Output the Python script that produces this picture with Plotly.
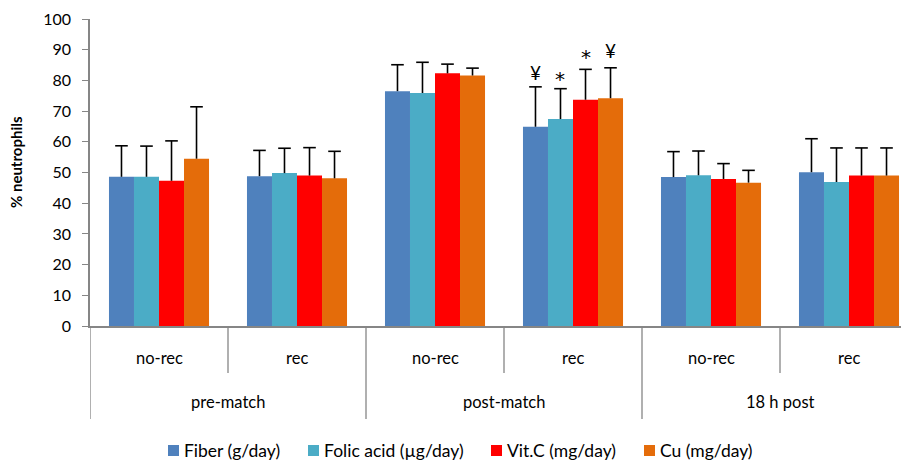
import plotly.graph_objects as go

# ---------------- data ----------------
periods = ["pre-match", "post-match", "18 h post"]
subgroups = ["no-rec", "rec"]
series_names = ["Fiber (g/day)", "Folic acid (µg/day)", "Vit.C (mg/day)", "Cu (mg/day)"]
series_colors = ["#4F81BD", "#4BACC6", "#FF0000", "#E46C0A"]

fiber = [48.6, 48.8, 76.5, 64.9, 48.5, 50.1]
folic = [48.6, 49.8, 75.9, 67.4, 49.1, 46.9]
vitc = [47.3, 49.0, 82.3, 73.7, 47.9, 49.0]
cu = [54.5, 48.1, 81.6, 74.2, 46.7, 49.0]

fiber_sd = [10.1, 8.4, 8.6, 13.0, 8.3, 10.9]
folic_sd = [10.0, 8.1, 10.0, 9.9, 7.9, 11.1]
vitc_sd = [13.0, 9.1, 3.0, 9.9, 5.0, 9.0]
cu_sd = [16.9, 8.8, 2.4, 9.9, 4.0, 9.0]

# significance marks (post-match, rec) and their heights
sig_marks = ["¥", "*", "*", "¥"]
sig_heights = [82.5, 80.6, 87.6, 89.6]
sig_group = 3

values = [fiber, folic, vitc, cu]
sds = [fiber_sd, folic_sd, vitc_sd, cu_sd]

y_ticks = list(range(0, 101, 10))

# ---------------- layout helpers ----------------
FONT = "Lato, 'Open Sans', sans-serif"
AXIS_GRAY = "#868686"
W, H = 909, 463
ML, MT, MR = 82, 11, 0
PLOT_H = 307
MB = H - MT - PLOT_H
PLOT_W = W - ML - MR
OFF = 8  # page offset of the figure
PX_PER_CAT = 138.0


def px_x(px):  # page pixel -> paper x
    return (px - OFF - ML) / PLOT_W


def px_y(py):  # page pixel -> paper y
    return (OFF + MT + PLOT_H - py) / PLOT_H


n_groups = len(periods) * len(subgroups)
xpos = [i + 0.5 for i in range(n_groups)]
bargap = 0.275
bar_w = (1 - bargap) / len(series_names)

fig = go.Figure()
for name, col, v, sd in zip(series_names, series_colors, values, sds):
    fig.add_trace(go.Bar(
        x=xpos, y=v, name=name, showlegend=False,
        marker=dict(color=col, line=dict(width=0)),
        error_y=dict(type="data", array=sd, arrayminus=[0] * len(sd), symmetric=False,
                     color="black", thickness=1.6, width=0),
    ))

# top caps of the one-sided error bars
for i, (v, sd) in enumerate(zip(values, sds)):
    fig.add_trace(go.Scatter(
        x=[x + (i - 1.5) * bar_w for x in xpos],
        y=[a + b for a, b in zip(v, sd)],
        mode="markers", showlegend=False, hoverinfo="skip",
        marker=dict(symbol="line-ew", size=9, color="black",
                    line=dict(color="black", width=1.6)),
    ))

annotations = []
for i, (m, h) in enumerate(zip(sig_marks, sig_heights)):
    annotations.append(dict(
        x=xpos[sig_group] + (i - 1.5) * bar_w, y=h, xref="x", yref="y",
        text=m, showarrow=False,
        font=dict(size=19 if m == "¥" else 20, color="black",
                  family=FONT if m == "¥" else "'DejaVu Sans', sans-serif"),
        xanchor="center", yanchor="middle"))

for i in range(n_groups):
    annotations.append(dict(
        x=xpos[i], y=px_y(358), xref="x", yref="paper", text=subgroups[i % 2],
        showarrow=False, font=dict(size=16.5, color="black", family=FONT),
        xanchor="center", yanchor="middle"))
for j, p in enumerate(periods):
    annotations.append(dict(
        x=2 * j + 1, y=px_y(402), xref="x", yref="paper", text=p,
        showarrow=False, font=dict(size=16.5, color="black", family=FONT),
        xanchor="center", yanchor="middle"))
annotations.append(dict(
    x=px_x(16), y=px_y(162), xref="paper", yref="paper", text="<b>% neutrophils</b>",
    textangle=-90, showarrow=False, font=dict(size=15, color="black", family=FONT),
    xanchor="center", yanchor="middle"))

shapes = []
for b in range(n_groups):
    bottom = px_y(419) if b % 2 == 0 else px_y(373)
    shapes.append(dict(type="line", xref="x", yref="paper", x0=b, x1=b, y0=0, y1=bottom,
                       line=dict(color=AXIS_GRAY, width=1.3)))

# manual legend (square + label)
legend_left = [168, 308, 491, 644]
legend_cy = 450.5
sq = 11
for name, col, lx in zip(series_names, series_colors, legend_left):
    shapes.append(dict(type="rect", xref="paper", yref="paper",
                       x0=px_x(lx), x1=px_x(lx + sq),
                       y0=px_y(legend_cy + sq / 2), y1=px_y(legend_cy - sq / 2),
                       fillcolor=col, line=dict(width=0)))
    annotations.append(dict(
        x=px_x(lx + sq + 3), y=px_y(legend_cy), xref="paper", yref="paper", text=name,
        showarrow=False, font=dict(size=17.5, color="black", family=FONT),
        xanchor="left", yanchor="middle"))

fig.update_layout(
    width=W, height=H,
    margin=dict(l=ML, r=MR, t=MT, b=MB),
    paper_bgcolor="white", plot_bgcolor="white",
    barmode="group", bargap=bargap, bargroupgap=0,
    font=dict(family=FONT, size=15, color="black"),
    showlegend=False,
    xaxis=dict(range=[0, PLOT_W / PX_PER_CAT], showticklabels=False, showgrid=False,
               zeroline=False, showline=True, linecolor=AXIS_GRAY, linewidth=1.5, ticks=""),
    yaxis=dict(range=[0, 100], tickvals=y_ticks, showgrid=False, zeroline=False,
               showline=True, linecolor=AXIS_GRAY, linewidth=1.5, ticks="outside",
               ticklen=6, tickcolor=AXIS_GRAY, tickwidth=1.3, ticklabelstandoff=8,
               tickfont=dict(size=16, color="black", family=FONT)),
    annotations=annotations,
    shapes=shapes,
)

fig.write_html("out.html")
